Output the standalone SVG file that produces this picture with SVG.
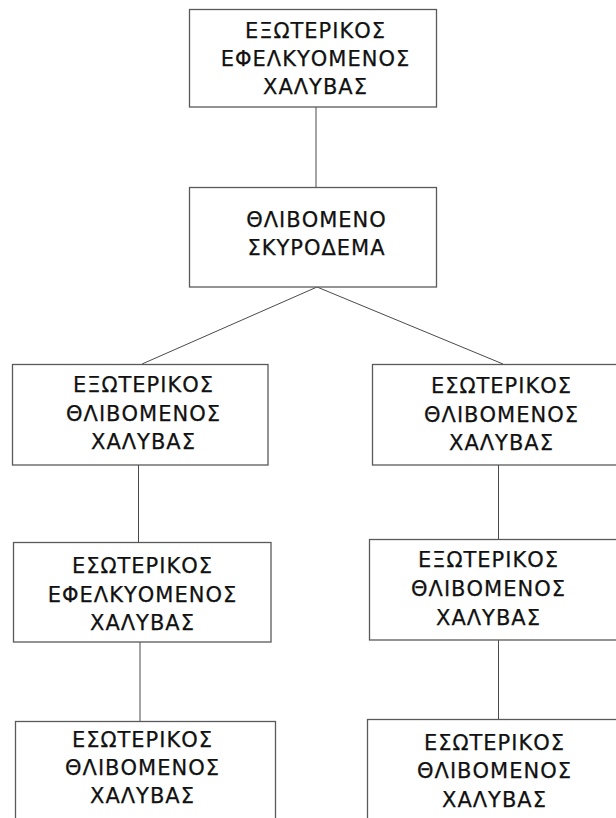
<svg xmlns="http://www.w3.org/2000/svg" width="616" height="818" viewBox="0 0 616 818">
  <style>
    .box { fill: #ffffff; stroke: #5a5a5a; stroke-width: 1.3; }
    .lbl { font-family: "DejaVu Sans", Verdana, sans-serif; font-size: 21px; letter-spacing: 1px; fill: #111111; stroke: #111111; stroke-width: 0.25; text-anchor: middle; }
    .conn line { stroke: #4a4a4a; stroke-width: 1; }
  </style>
  <rect width="616" height="818" fill="#ffffff"/>

  <g class="conn" id="connectors">
    <line x1="316" y1="107" x2="316" y2="187"/>
    <line x1="317" y1="287" x2="142" y2="364"/>
    <line x1="317" y1="287" x2="503" y2="364"/>
    <line x1="138.5" y1="465" x2="138.5" y2="542"/>
    <line x1="498.5" y1="465" x2="498.5" y2="539"/>
    <line x1="140" y1="642" x2="140" y2="721"/>
    <line x1="498.5" y1="640" x2="498.5" y2="719"/>
  </g>

  <g id="n-top">
    <rect class="box" x="189.5" y="9.5" width="247" height="97.5"/>
    <text class="lbl" x="315.5" y="38">ΕΞΩΤΕΡΙΚΟΣ</text>
    <text class="lbl" x="315.5" y="66">ΕΦΕΛΚΥΟΜΕΝΟΣ</text>
    <text class="lbl" x="315.5" y="94">ΧΑΛΥΒΑΣ</text>
  </g>

  <g id="n-concrete">
    <rect class="box" x="189.5" y="187.5" width="247" height="99.5"/>
    <text class="lbl" x="316.5" y="227">ΘΛΙΒΟΜΕΝΟ</text>
    <text class="lbl" x="316.5" y="255">ΣΚΥΡΟΔΕΜΑ</text>
  </g>

  <g id="n-left-1">
    <rect class="box" x="12.5" y="364.5" width="255.5" height="100.5"/>
    <text class="lbl" x="143.5" y="392">ΕΞΩΤΕΡΙΚΟΣ</text>
    <text class="lbl" x="143.5" y="421">ΘΛΙΒΟΜΕΝΟΣ</text>
    <text class="lbl" x="143.5" y="449">ΧΑΛΥΒΑΣ</text>
  </g>

  <g id="n-right-1">
    <rect class="box" x="372.5" y="364.5" width="250" height="100.5"/>
    <text class="lbl" x="501.5" y="393">ΕΣΩΤΕΡΙΚΟΣ</text>
    <text class="lbl" x="501.5" y="422">ΘΛΙΒΟΜΕΝΟΣ</text>
    <text class="lbl" x="501.5" y="450">ΧΑΛΥΒΑΣ</text>
  </g>

  <g id="n-left-2">
    <rect class="box" x="13.5" y="542.5" width="257.5" height="99.5"/>
    <text class="lbl" x="142.5" y="573">ΕΣΩΤΕΡΙΚΟΣ</text>
    <text class="lbl" x="142.5" y="602">ΕΦΕΛΚΥΟΜΕΝΟΣ</text>
    <text class="lbl" x="142.5" y="630">ΧΑΛΥΒΑΣ</text>
  </g>

  <g id="n-right-2">
    <rect class="box" x="369.5" y="539.5" width="253" height="100.5"/>
    <text class="lbl" x="488.5" y="567">ΕΞΩΤΕΡΙΚΟΣ</text>
    <text class="lbl" x="488.5" y="596">ΘΛΙΒΟΜΕΝΟΣ</text>
    <text class="lbl" x="488.5" y="625">ΧΑΛΥΒΑΣ</text>
  </g>

  <g id="n-left-3">
    <rect class="box" x="15.5" y="721.5" width="260" height="110"/>
    <text class="lbl" x="142.5" y="747">ΕΣΩΤΕΡΙΚΟΣ</text>
    <text class="lbl" x="142.5" y="775">ΘΛΙΒΟΜΕΝΟΣ</text>
    <text class="lbl" x="142.5" y="803">ΧΑΛΥΒΑΣ</text>
  </g>

  <g id="n-right-3">
    <rect class="box" x="367.5" y="719.5" width="260" height="110"/>
    <text class="lbl" x="494.5" y="750">ΕΣΩΤΕΡΙΚΟΣ</text>
    <text class="lbl" x="494.5" y="778">ΘΛΙΒΟΜΕΝΟΣ</text>
    <text class="lbl" x="494.5" y="807">ΧΑΛΥΒΑΣ</text>
  </g>
</svg>
